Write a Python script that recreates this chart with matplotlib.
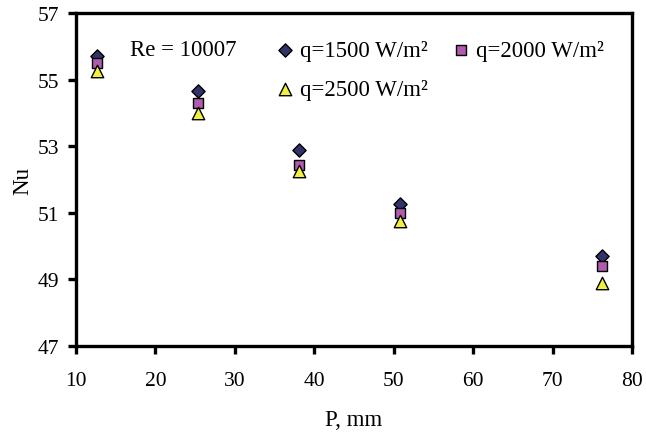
import matplotlib
matplotlib.use("Agg")
import matplotlib.pyplot as plt

plt.rcParams['font.family'] = ['Liberation Serif', 'DejaVu Serif']

P = [12.7, 25.4, 38.1, 50.8, 76.2]
nu_1500 = [55.7, 54.65, 52.9, 51.25, 49.7]
nu_2000 = [55.5, 54.3, 52.45, 51.0, 49.4]
nu_2500 = [55.25, 54.0, 52.25, 50.75, 48.9]
labels = ["q=1500 W/m²", "q=2000 W/m²", "q=2500 W/m²"]

FS = 16.5
L, R, T, B = 76, 632, 14, 347
fig = plt.figure(figsize=(6.46, 4.35), dpi=100)
ax = fig.add_axes([L/646, 1-B/435, (R-L)/646, (B-T)/435])

h1 = ax.scatter(P, nu_1500, marker='D', s=45, c='#33336b', edgecolors='black', linewidths=1, label=labels[0], zorder=3)
h2 = ax.scatter(P, nu_2000, marker='s', s=60, c='#b05ab0', edgecolors='black', linewidths=1, label=labels[1], zorder=4)
h3 = ax.scatter(P, nu_2500, marker='^', s=80, c='#f0f040', edgecolors='black', linewidths=1, label=labels[2], zorder=5)

ax.set_xlim(10, 80)
ax.set_ylim(47, 57)
ax.set_xticks(range(10, 81, 10))
ax.set_yticks(range(47, 58, 2))
for s in ax.spines.values():
    s.set_linewidth(2.4)
ax.tick_params(direction='out', length=6, width=2.4, labelsize=15.5)
ax.tick_params(axis='y', pad=6)
ax.tick_params(axis='x', pad=12)
ax.set_xlabel("P, mm", fontsize=FS, labelpad=14)
ax.set_ylabel("Nu", fontsize=FS, labelpad=3)

ax.text((130-L)/(R-L), 1-(50-T)/(B-T), "Re = 10007", transform=ax.transAxes, fontsize=FS, va='center', ha='left')
leg = ax.legend(handles=[h1, h3, h2], labels=[labels[0], labels[2], labels[1]], ncol=2,
                loc='upper left', bbox_to_anchor=((276-L)/(R-L), 0.92), frameon=False, fontsize=FS,
                borderpad=0, borderaxespad=0, handletextpad=0.25, columnspacing=1.05,
                labelspacing=0.78, handlelength=0.8)

fig.savefig("out.png", dpi=100)
